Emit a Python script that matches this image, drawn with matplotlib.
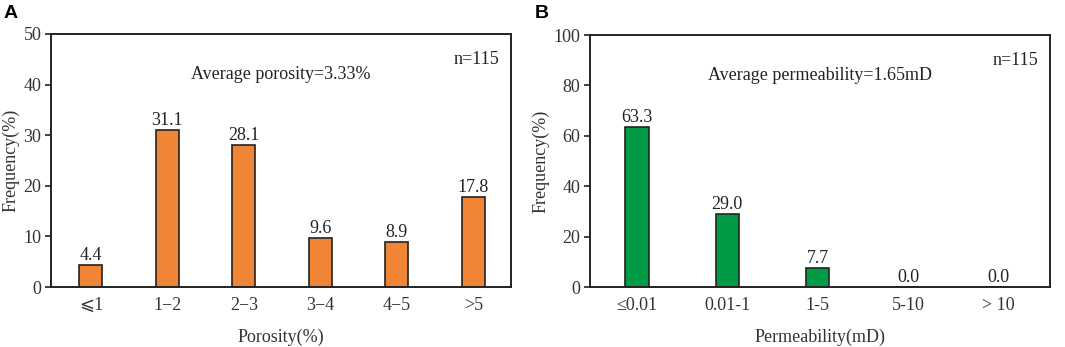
import matplotlib.pyplot as plt

# Data
por_cats = ['⩽1', '1−2', '2−3', '3−4', '4−5', '>5']
por_freq = [4.4, 31.1, 28.1, 9.6, 8.9, 17.8]
perm_cats = ['≤0.01', '0.01-1', '1-5', '5-10', '> 10']
perm_freq = [63.3, 29.0, 7.7, 0.0, 0.0]

plt.rcParams['font.family'] = ['Liberation Serif', 'DejaVu Sans']
plt.rcParams['font.size'] = 13

fig = plt.figure(figsize=(10.65, 3.47), dpi=100)
axA = fig.add_axes([51 / 1065, 1 - 287 / 347, 460 / 1065, 253 / 347])
axB = fig.add_axes([590 / 1065, 1 - 287 / 347, 460 / 1065, 252 / 347])

edge = '#222222'
fs = 13


def draw(ax, cats, vals, color, width, ymax, step, xlabel, avg_text):
    x = list(range(len(cats)))
    ax.bar(x, vals, width=width, color=color, edgecolor=edge, linewidth=1.2)
    for xi, v in zip(x, vals):
        ax.text(xi, v + ymax * 0.004, f'{v:.1f}', ha='center', va='bottom',
                fontsize=fs, color='#222222')
    ax.set_xticks(x)
    ax.set_xticklabels(cats, color='#333333', fontsize=fs)
    ax.set_ylim(0, ymax)
    ax.set_yticks(range(0, ymax + 1, step))
    ax.tick_params(axis='y', direction='out', length=4, width=1.2,
                   labelsize=fs, labelcolor='#333333', color=edge, pad=3)
    ax.tick_params(axis='x', length=0, pad=7)
    for s in ax.spines.values():
        s.set_linewidth(1.4)
        s.set_color(edge)
    ax.set_xlabel(xlabel, fontsize=fs, color='#333333', labelpad=11)
    ax.set_ylabel('Frequency(%)', fontsize=fs, color='#333333', labelpad=3)
    ax.text(0.975, 0.9, 'n=115', transform=ax.transAxes, ha='right',
            va='center', fontsize=fs, color='#222222')
    ax.text(0.5, 0.84, avg_text, transform=ax.transAxes, ha='center',
            va='center', fontsize=fs, color='#222222')


draw(axA, por_cats, por_freq, '#F08536', 0.3, 50, 10, 'Porosity(%)',
     'Average porosity=3.33%')
axA.set_xlim(-0.52, 5.49)

draw(axB, perm_cats, perm_freq, '#009B45', 0.26, 100, 20, 'Permeability(mD)',
     'Average permeability=1.65mD')
axB.set_xlim(-0.52, 4.57)

fig.text(4 / 1065, 1 - 14 / 347, 'A', fontsize=14, fontweight='bold',
         family='Liberation Sans', va='center', ha='left')
fig.text(535 / 1065, 1 - 14 / 347, 'B', fontsize=14, fontweight='bold',
         family='Liberation Sans', va='center', ha='left')

fig.savefig('out.png', dpi=100)
